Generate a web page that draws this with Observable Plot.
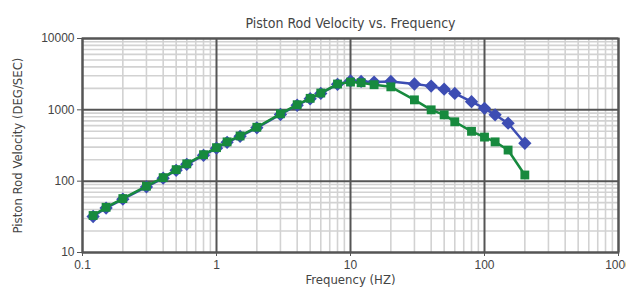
<!DOCTYPE html>
<html>
<head>
<meta charset="utf-8">
<script src="https://cdn.jsdelivr.net/npm/d3@7"></script>
<script src="https://cdn.jsdelivr.net/npm/@observablehq/plot@0.6"></script>
<style>
  html, body { margin: 0; padding: 0; background: #fff; }
  #chart svg { display: block; }
  .cond { font-family: 'DejaVu Sans', sans-serif; font-stretch: condensed; }
</style>
</head>
<body>
<div id="chart"></div>
<script>
const title = "Piston Rod Velocity vs. Frequency";
const xLabel = "Frequency (HZ)";
const yLabel = "Piston Rod Velocity (DEG/SEC)";

const xTicks = [0.1, 1, 10, 100, 1000];
const xTickLabels = ["0.1", "1", "10", "100", "1000"];
const yTicks = [10, 100, 1000, 10000];
const yTickLabels = ["10", "100", "1000", "10000"];

const greenFreq = [0.12, 0.15, 0.2, 0.3, 0.4, 0.5, 0.6, 0.8, 1, 1.2, 1.5, 2, 3, 4, 5, 6, 8, 10, 12, 15, 20, 30, 40, 50, 60, 80, 100, 120, 150, 200];
const greenVel  = [33, 43, 57, 85, 112, 145, 175, 235, 295, 355, 430, 570, 880, 1180, 1450, 1720, 2300, 2450, 2400, 2250, 2100, 1380, 1000, 850, 680, 500, 415, 355, 273, 122];

const blueFreq = [0.12, 0.15, 0.2, 0.3, 0.4, 0.5, 0.6, 0.8, 1, 1.2, 1.5, 2, 3, 4, 5, 6, 8, 10, 12, 15, 20, 30, 40, 50, 60, 80, 100, 120, 150, 200];
const blueVel  = [32, 42, 56, 83, 110, 142, 172, 230, 290, 350, 425, 560, 860, 1160, 1430, 1700, 2280, 2550, 2500, 2450, 2500, 2300, 2150, 1950, 1700, 1300, 1050, 850, 650, 340];

const green = greenFreq.map((f, i) => ({f, v: greenVel[i]}));
const blue = blueFreq.map((f, i) => ({f, v: blueVel[i]}));

const minorX = [];
for (const d of [0.1, 1, 10, 100]) for (let k = 2; k <= 9; k++) minorX.push(d * k);
const minorY = [];
for (const d of [10, 100, 1000]) for (let k = 2; k <= 9; k++) minorY.push(d * k);

const font = "'Liberation Sans', Arial, sans-serif";
const textColor = "#444";
const gridMajor = "#555";
const gridMinor = "#d2d2d2";
const greenColor = "#178a3e";
const blueColor = "#3d4db3";

const chart = Plot.plot({
  width: 626,
  height: 292,
  marginTop: 38,
  marginBottom: 40,
  marginLeft: 82,
  marginRight: 8,
  style: { fontFamily: font, fontSize: "12px", color: textColor, background: "#fff" },
  x: { type: "log", domain: [0.1, 1000] },
  y: { type: "log", domain: [10, 10000] },
  marks: [
    Plot.ruleX(minorX, { stroke: gridMinor, strokeWidth: 1.6 }),
    Plot.ruleY(minorY, { stroke: gridMinor, strokeWidth: 1.6 }),
    Plot.ruleX(xTicks, { stroke: gridMajor, strokeWidth: 2 }),
    Plot.ruleY(yTicks, { stroke: gridMajor, strokeWidth: 2 }),
    Plot.frame({ stroke: gridMajor, strokeWidth: 2 }),
    Plot.axisX({
      ticks: xTicks,
      tickFormat: (d) => xTickLabels[xTicks.indexOf(d)],
      tickSize: 4,
      tickPadding: 4,
      stroke: gridMajor,
      fill: textColor,
      fontSize: 12,
      label: null
    }),
    Plot.axisY({
      ticks: yTicks,
      tickFormat: (d) => yTickLabels[yTicks.indexOf(d)],
      tickSize: 5,
      tickPadding: 3,
      stroke: gridMajor,
      fill: textColor,
      fontSize: 12,
      label: null
    }),
    Plot.text([xLabel], { frameAnchor: "bottom", dy: 31, fill: textColor, fontSize: 13, className: "cond" }),
    Plot.text([yLabel], { frameAnchor: "left", dx: -65, rotate: -90, textAnchor: "middle", fill: textColor, fontSize: 13, className: "cond" }),
    Plot.text([title], { frameAnchor: "top", dy: -20, fill: textColor, fontSize: 14, className: "cond" }),
    Plot.line(blue, { x: "f", y: "v", stroke: blueColor, strokeWidth: 2.5 }),
    Plot.dot(blue, { x: "f", y: "v", symbol: "diamond2", fill: blueColor, r: 6, stroke: "none" }),
    Plot.line(green, { x: "f", y: "v", stroke: greenColor, strokeWidth: 2.5 }),
    Plot.dot(green, { x: "f", y: "v", symbol: "square", fill: greenColor, r: 5, stroke: "none" })
  ]
});
document.getElementById("chart").appendChild(chart);
</script>
</body>
</html>
